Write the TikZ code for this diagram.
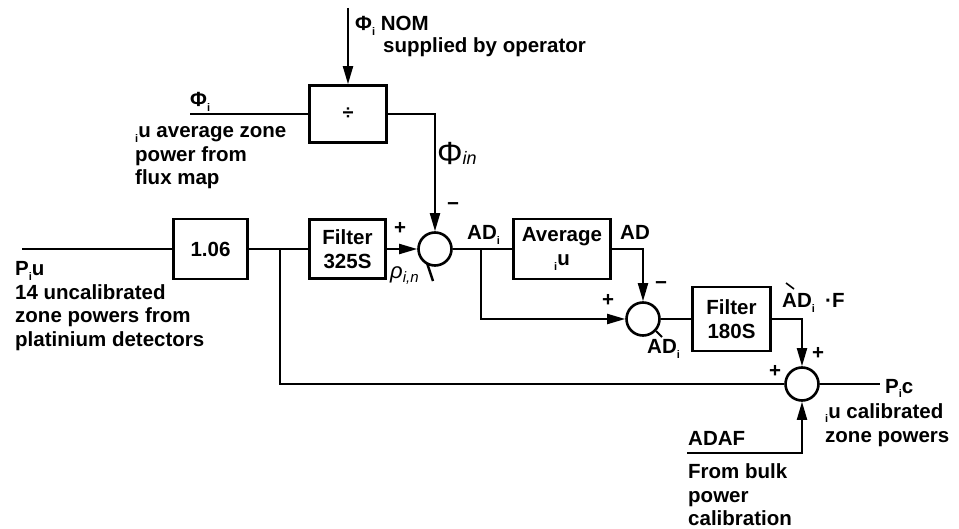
\documentclass[tikz,border=0pt]{standalone}
\usepackage{fontspec}
\setmainfont{Liberation Sans}
\usetikzlibrary{arrows.meta}
\newcommand{\sbi}{\raisebox{-0.45ex}{\fontsize{11}{11}\selectfont i}}
\begin{document}
\begin{tikzpicture}[x=1pt,y=-1pt,
  font=\bfseries\fontsize{20.5}{24}\selectfont,
  blk/.style={draw, line width=2.6pt, align=center, inner sep=0pt},
  sum/.style={draw, circle, line width=2.6pt, minimum size=33pt, inner sep=0pt},
  wire/.style={line width=2pt},
  arr/.style={wire, -{Triangle[length=18pt,width=10pt]}},
  txt/.style={anchor=base west, inner sep=0pt},
  sgn/.style={inner sep=0pt},
  hand/.style={inner sep=0pt, font=\mdseries}]
\fill[white] (0,0) rectangle (959,529);
\useasboundingbox (0,0) rectangle (959,529);

% blocks
\node[blk, minimum width=77pt, minimum height=57pt] (div) at (348,114) {\fontsize{20}{20}\selectfont ÷};
\node[blk, minimum width=74pt, minimum height=60pt] (k106) at (210.5,249) {1.06};
\node[blk, minimum width=76pt, minimum height=59pt] (f325) at (347.5,249) {Filter\\325S};
\node[blk, minimum width=97pt, minimum height=60pt] (avg) at (562,249) {Average\\\sbi u};
\node[blk, minimum width=78pt, minimum height=64pt] (f180) at (731.5,319) {Filter\\180S};

% summing junctions
\node[sum] (s1) at (435,249) {};
\node[sum] (s2) at (643,319) {};
\node[sum] (s3) at (802,384) {};

% free ends and branch points
\coordinate (nom) at (348,8);
\coordinate (phin) at (190,114);
\coordinate (pin) at (22,249);
\coordinate (b0) at (280,249);
\coordinate (b1) at (481,249);
\coordinate (out) at (880,384);
\coordinate (adaf) at (687,453);

% connectors
\draw[arr] (nom) -- (div.north);
\draw[wire] (phin) -- (div.west);
\draw[arr] (div.east) -| (s1.north);
\draw[wire] (pin) -- (k106.west);
\draw[wire] (k106.east) -- (f325.west);
\draw[arr] (f325.east) -- (s1.west);
\draw[wire] (s1.east) -- (avg.west);
\draw[arr] (b1) |- (s2.west);
\draw[arr] (avg.east) -| (s2.north);
\draw[wire] (s2.east) -- (f180.west);
\draw[arr] (f180.east) -| (s3.north);
\draw[wire] (b0) |- (s3.west);
\draw[wire] (s3.east) -- (out);
\draw[arr] (adaf) -| (s3.south);

% texts
\node[txt] (tnom) at (355,31) {Φ\sbi{} NOM};
\node[txt] (tsup) at (383,53) {supplied by operator};
\node[txt] (tphi) at (190,107) {Φ\sbi};
\node[txt] (ta1) at (135,138) {\sbi u average zone};
\node[txt] (ta2) at (135,162) {power from};
\node[txt] (ta3) at (135,185) {flux map};
\node[txt] (tp1) at (15,276) {P\sbi u};
\node[txt] (tp2) at (15,300) {14 uncalibrated};
\node[txt] (tp3) at (15,323) {zone powers from};
\node[txt] (tp4) at (15,347) {platinium detectors};
\node[sgn] (p1) at (400,228) {+};
\node[sgn] (m1) at (453,207) {−};
\node[txt] (tad1) at (467,240) {AD\sbi};
\node[txt] (tad) at (620,240) {AD};
\node[sgn] (p2) at (608,300) {+};
\node[sgn] (m2) at (661,286) {−};
\node[txt] (tad2) at (647,354) {AD\sbi};
\node[txt] (tadf) at (782,308) {AD\sbi};
\node[txt] (tf) at (825,308) {·F};
\node[sgn] (p3) at (818,353) {+};
\node[sgn] (p4) at (775,371) {+};
\node[txt] (tpc) at (885,393) {P\sbi c};
\node[txt] (tc1) at (825,418) {\sbi u calibrated};
\node[txt] (tc2) at (825,442) {zone powers};
\node[txt] (tadaf) at (688,445) {ADAF};
\node[txt] (tb1) at (688,478) {From bulk};
\node[txt] (tb2) at (688,502) {power};
\node[txt] (tb3) at (688,525) {calibration};

% handwritten marks
\node[hand, anchor=base west] (hphi) at (437,165) {\fontsize{32}{32}\selectfont Φ\fontsize{18}{18}\selectfont\itshape in};
\node[hand, anchor=base west] (hrho) at (390,279) {\fontsize{22}{22}\selectfont\itshape ρ\raisebox{-0.3ex}{\fontsize{15}{15}\selectfont i,n}};
\draw[line width=2.5pt] (427,263) -- (433,281);
\draw[line width=2pt] (656,331) -- (662,337);
\draw[line width=1.6pt] (786,283) -- (794,289);
\end{tikzpicture}
\end{document}
